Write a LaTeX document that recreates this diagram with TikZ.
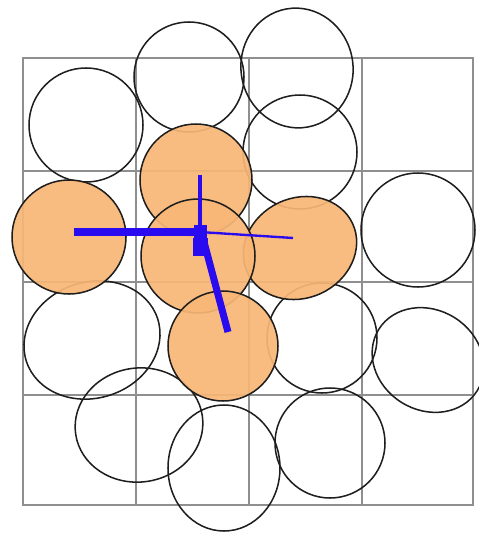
\documentclass[tikz,border=0pt]{standalone}
\usepackage{xcolor}
\usepackage{tikz}
\usetikzlibrary{positioning, arrows.meta}
\definecolor{gLine}{HTML}{8F8F8F}
\definecolor{pInk}{HTML}{1E1E1E}
\definecolor{pHot}{HTML}{F8B676}
\definecolor{bBlue}{HTML}{2A0AEE}
\tikzset{
  gridline/.style={draw=gLine, line width=1.1pt},
  particle/.style={draw=pInk, line width=1.3pt},
  hotparticle/.style={particle, fill=pHot, fill opacity=0.93},
  branch/.style={draw=bBlue, line width=6pt},
  branchmid/.style={draw=bBlue, line width=3.4pt},
  branchthin/.style={draw=bBlue, line width=2pt},
  hub/.style={fill=bBlue},
}

\begin{document}
\begin{tikzpicture}[x=0.03cm, y=-0.03cm]
      \useasboundingbox (0,0) rectangle (478,535);
      % cells
      \draw[gridline] (23,58) rectangle (473,505);
      \draw[gridline] (136,58) -- (136,505);
      \draw[gridline] (249,58) -- (249,505);
      \draw[gridline] (362,58) -- (362,505);
      \draw[gridline] (23,171) -- (473,171);
      \draw[gridline] (23,282) -- (473,282);
      \draw[gridline] (23,395) -- (473,395);
      % free particles
      \draw[particle] (86,125) circle (57);
      \draw[particle] (189,77) circle (55);
      \draw[particle, rotate around={10:(297,68)}] (297,68) ellipse (56 and 60);
      \draw[particle] (300,152) circle (57);
      \draw[particle] (418,230) circle (57);
      \draw[particle, rotate around={18:(92,340)}] (92,340) ellipse (69 and 58);
      \draw[particle] (322,338) circle (55);
      \draw[particle, rotate around={-32:(428,360)}] (428,360) ellipse (58 and 50);
      \draw[particle, rotate around={8:(139,425)}] (139,425) ellipse (64 and 57);
      \draw[particle] (224,468) ellipse (56 and 63);
      \draw[particle] (330,443) circle (55);
      % contact cluster
      \draw[hotparticle] (196,180) circle (56);
      \draw[hotparticle, rotate around={25:(300,248)}] (300,248) ellipse (58 and 50);
      \draw[hotparticle] (69,237) circle (57);
      \draw[hotparticle] (198,256) circle (57);
      \draw[hotparticle] (223,346) circle (55);
      % branches
      \coordinate (hub) at (200,232);
      \coordinate (west) at (74,232);
      \coordinate (north) at (200,175);
      \coordinate (east) at (293,238);
      \coordinate (south) at (228,332);
      \draw[branch] (west) -- (hub);
      \draw[branchmid] (north) -- (hub);
      \draw[branchthin] (hub) -- (east);
      \draw[branch] (204,242) -- (south);
      \fill[hub] (194,225) rectangle (207,238);
      \fill[hub] (193,238) -- (208,238) -- (208,256) -- (193,256) -- cycle;
\end{tikzpicture}
\end{document}
